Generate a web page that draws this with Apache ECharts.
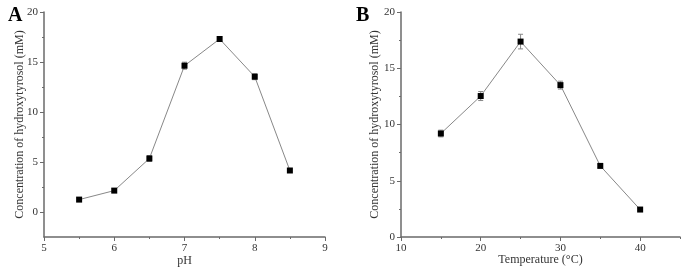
<!DOCTYPE html>
<html>
<head>
<meta charset="utf-8">
<script src="https://cdn.jsdelivr.net/npm/echarts@6/dist/echarts.min.js"></script>
<style>
  html, body { margin: 0; padding: 0; background: #fff; }
  #chart { width: 685px; height: 269px; }
</style>
</head>
<body>
<div id="chart"></div>
<script>
/* ---------------------------------- Data ---------------------------------- */
const phValues = [5.5, 6, 6.5, 7, 7.5, 8, 8.5];
const phConc = [1.24, 2.14, 5.35, 14.63, 17.3, 13.53, 4.15];
const phErr = [0.15, 0.2, 0.3, 0.35, 0.2, 0.3, 0.15];

const tempValues = [15, 20, 25, 30, 35, 40];
const tempConc = [9.2, 12.53, 17.37, 13.5, 6.32, 2.44];
const tempErr = [0.3, 0.4, 0.65, 0.35, 0.15, 0.1];

const phTicks = [5, 6, 7, 8, 9];
const phMinor = [5.5, 6.5, 7.5, 8.5];
const tempTicks = [10, 20, 30, 40];
const tempMinor = [15, 25, 35, 45];
const concTicks = [0, 5, 10, 15, 20];
const concMinor = [2.5, 7.5, 12.5, 17.5];

const yName = 'Concentration of hydroxytyrosol (mM)';

/* --------------------------------- Helpers -------------------------------- */
const FONT = "'Liberation Serif', 'Times New Roman', serif";
const AXIS_COLOR = '#6a6a6a';
const TEXT_COLOR = '#333';

const mainAxis = (gridIndex, position, min, max, ticks, name, nameGap) => ({
  type: 'value',
  gridIndex,
  position,
  min,
  max,
  name,
  nameLocation: 'middle',
  nameGap,
  nameMoveOverlap: false,
  nameTextStyle: { fontFamily: FONT, fontSize: 12, color: TEXT_COLOR },
  splitLine: { show: false },
  axisLine: { show: true, onZero: false, lineStyle: { color: AXIS_COLOR, width: 1.5 } },
  axisTick: { show: true, length: 4, customValues: ticks, lineStyle: { color: AXIS_COLOR, width: 1 } },
  axisLabel: { customValues: ticks, margin: 6, fontFamily: FONT, fontSize: 11, color: TEXT_COLOR }
});

const minorAxis = (gridIndex, position, min, max, ticks) => ({
  type: 'value',
  gridIndex,
  position,
  min,
  max,
  splitLine: { show: false },
  axisLine: { show: false, onZero: false },
  axisTick: { show: true, length: 2, customValues: ticks, lineStyle: { color: AXIS_COLOR, width: 1 } },
  axisLabel: { show: false }
});

const errorBars = (xIndex, yIndex, xs, ys, errs) => ({
  type: 'custom',
  xAxisIndex: xIndex,
  yAxisIndex: yIndex,
  z: 1,
  data: xs.map((x, i) => [x, ys[i], errs[i]]),
  renderItem(params, api) {
    const x = api.value(0);
    const y = api.value(1);
    const e = api.value(2);
    const top = api.coord([x, y + e]);
    const bot = api.coord([x, y - e]);
    const style = { stroke: '#888', lineWidth: 1 };
    return {
      type: 'group',
      children: [
        { type: 'line', shape: { x1: top[0], y1: top[1], x2: bot[0], y2: bot[1] }, style },
        { type: 'line', shape: { x1: top[0] - 2.5, y1: top[1], x2: top[0] + 2.5, y2: top[1] }, style },
        { type: 'line', shape: { x1: bot[0] - 2.5, y1: bot[1], x2: bot[0] + 2.5, y2: bot[1] }, style }
      ]
    };
  }
});

const lineSeries = (xIndex, yIndex, xs, ys) => ({
  type: 'line',
  xAxisIndex: xIndex,
  yAxisIndex: yIndex,
  z: 3,
  data: xs.map((x, i) => [x, ys[i]]),
  symbol: 'rect',
  symbolSize: 6,
  itemStyle: { color: '#000' },
  lineStyle: { color: '#888', width: 1 }
});

/* ---------------------------------- Chart --------------------------------- */
const chart = echarts.init(document.getElementById('chart'), null, { renderer: 'canvas' });

chart.setOption({
  animation: false,
  backgroundColor: '#fff',
  title: [
    { text: 'A', left: 3, top: 1, textStyle: { fontFamily: FONT, fontSize: 20, fontWeight: 'bold', color: '#000' } },
    { text: 'B', left: 351, top: 1, textStyle: { fontFamily: FONT, fontSize: 20, fontWeight: 'bold', color: '#000' } }
  ],
  grid: [
    { left: 44, top: 12, right: 360, bottom: 32, outerBoundsMode: 'none' },
    { left: 401, top: 12, right: 5, bottom: 32, outerBoundsMode: 'none' }
  ],
  xAxis: [
    mainAxis(0, 'bottom', 5, 9, phTicks, 'pH', 18),
    minorAxis(0, 'bottom', 5, 9, phMinor),
    mainAxis(1, 'bottom', 10, 45, tempTicks, 'Temperature (\u00b0C)', 17),
    minorAxis(1, 'bottom', 10, 45, tempMinor)
  ],
  yAxis: [
    mainAxis(0, 'left', -2.5, 20, concTicks, yName, 18),
    minorAxis(0, 'left', -2.5, 20, concMinor),
    mainAxis(1, 'left', 0, 20, concTicks, yName, 20),
    minorAxis(1, 'left', 0, 20, concMinor)
  ],
  series: [
    errorBars(0, 0, phValues, phConc, phErr),
    lineSeries(0, 0, phValues, phConc),
    errorBars(2, 2, tempValues, tempConc, tempErr),
    lineSeries(2, 2, tempValues, tempConc)
  ]
});
</script>
</body>
</html>
